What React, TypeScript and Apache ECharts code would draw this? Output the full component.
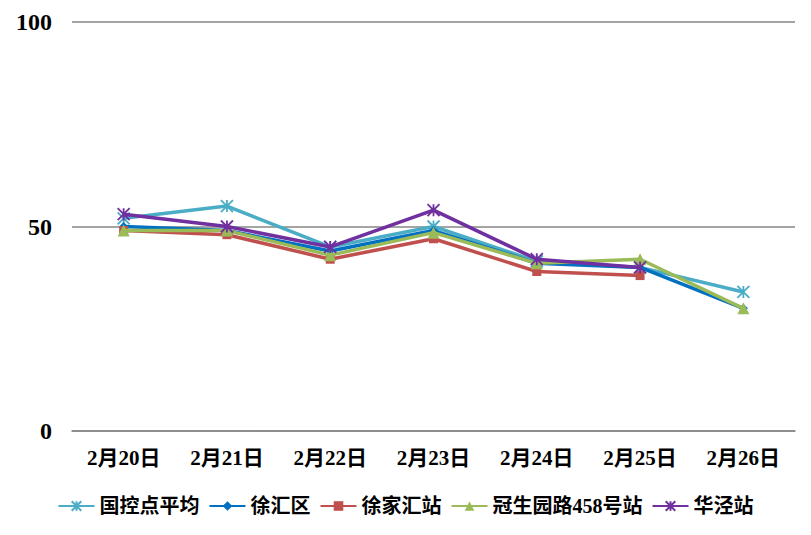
import React, { useEffect, useRef } from "react";
import * as echarts from "echarts";

const categories = ["2月20日", "2月21日", "2月22日", "2月23日", "2月24日", "2月25日", "2月26日"];
const seriesNames = ["国控点平均", "徐汇区", "徐家汇站", "冠生园路458号站", "华泾站"];
const guokong = [52, 55, 45, 50, 41.5, 40, 34];
const xuhuiqu = [50, 49, 44, 49, 41, 40, 30];
const xujiahui = [49, 48, 42, 47, 39, 38, null];
const guanshengyuan = [49, 49, 43, 48.5, 41, 42, 30];
const huajing = [53, 50, 45, 54, 42, 40, null];
const yTicks = [0, 50, 100];

const colors = ["#4BACC6", "#0070C0", "#C0504D", "#9BBB59", "#7030A0"];
const asterisk = "path://M5,0L5,10M0,0L10,10M0,10L10,0";

export default function App() {
  const ref = useRef<HTMLDivElement>(null);
  useEffect(() => {
    if (!ref.current) return;
    const chart = echarts.init(ref.current, null, { renderer: "svg" });
    const dataSets = [guokong, xuhuiqu, xujiahui, guanshengyuan, huajing];
    const symbols = [asterisk, "diamond", "rect", "triangle", asterisk];
    const sizes = [12, 9, 9, 12, 12];
    const font = '"Liberation Serif", "Noto Sans CJK SC", serif';
    chart.setOption({
      animation: false,
      color: colors,
      grid: { left: 72, right: 16, top: 22, bottom: 104 },
      xAxis: {
        type: "category",
        data: categories,
        boundaryGap: true,
        axisLine: { lineStyle: { color: "#868686", width: 1.5 } },
        axisTick: { show: false },
        axisLabel: { color: "#000", fontWeight: "bold", fontSize: 21, fontFamily: font, margin: 16 },
      },
      yAxis: {
        type: "value",
        min: yTicks[0],
        max: yTicks[yTicks.length - 1],
        interval: 50,
        axisLine: { show: false },
        axisTick: { show: false },
        splitLine: { lineStyle: { color: "#868686", width: 1.5 } },
        axisLabel: { color: "#000", fontWeight: "bold", fontSize: 24, fontFamily: font, margin: 20 },
      },
      legend: {
        bottom: 14,
        left: "center",
        itemWidth: 36,
        itemHeight: 12,
        itemGap: 9,
        textStyle: { color: "#000", fontWeight: "bold", fontSize: 20, fontFamily: font },
        data: seriesNames,
      },
      series: seriesNames.map((name, i) => ({
        name,
        type: "line",
        data: dataSets[i],
        symbol: symbols[i],
        symbolSize: sizes[i],
        showSymbol: true,
        lineStyle: { width: 3.5, color: colors[i] },
        itemStyle: {
          color: colors[i],
          borderColor: colors[i],
          borderWidth: symbols[i] === asterisk ? 1.8 : 0,
        },
        z: i === 4 ? 5 : i,
      })),
    });
    return () => chart.dispose();
  }, []);
  return (
    <div
      ref={ref}
      style={{ position: "absolute", left: 0, top: 0, width: 811, height: 535, background: "#fff" }}
    />
  );
}
